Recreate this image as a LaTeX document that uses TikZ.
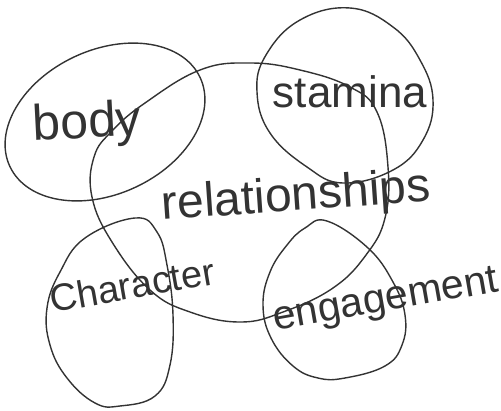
\documentclass[tikz,border=0pt]{standalone}
\usepackage{fontspec}
\setmainfont{Liberation Sans}
\begin{document}
\begin{tikzpicture}[x=1pt,y=-1pt,
  ink/.style={draw=black!80, line width=1.4pt},
  lbl/.style={inner sep=0pt, text=black!80}]
\useasboundingbox (0,0) rectangle (501,410);
% central shape
\draw[ink] plot[smooth cycle, tension=0.7] coordinates {
 (200,70) (250,63) (300,70) (350,87) (377,112) (388,167) (385,218) (366,255)
 (333,288) (283,312) (240,322) (190,312) (150,290) (112,242) (92,197)
 (94,157) (112,131) (145,103)};
% body
\draw[ink, rotate around={25:(105,122)}] (105,122) ellipse [x radius=105, y radius=72];
% stamina
\draw[ink] plot[smooth cycle, tension=0.7] coordinates {
 (350,8) (300,20) (266,55) (257,92) (270,133) (307,167) (343,183) (393,170)
 (423,140) (433,100) (420,60) (393,27)};
% character
\draw[ink] plot[smooth cycle, tension=0.7] coordinates {
 (135,218) (85,238) (60,272) (47,308) (50,345) (67,378) (95,403) (120,406)
 (155,396) (170,365) (173,315) (167,265) (157,232)};
% engagement
\draw[ink] plot[smooth cycle, tension=0.7] coordinates {
 (327,221) (368,248) (393,282) (405,315) (402,345) (385,366) (345,378)
 (318,378) (293,366) (271,338) (263,305) (270,272) (287,245) (305,228)};
% labels
\node[lbl, font=\fontsize{50}{50}\selectfont, rotate=3] (body) at (87,125) {body};
\node[lbl, font=\fontsize{44}{44}\selectfont] (stamina) at (350,92) {stamina};
\node[lbl, font=\fontsize{48}{48}\selectfont, rotate=4] (rel) at (296,198) {relationships};
\node[lbl, font=\fontsize{38}{38}\selectfont, rotate=10] (char) at (132,285) {Character};
\node[lbl, font=\fontsize{41}{41}\selectfont, rotate=10] (eng) at (386,302) {engagement};
\end{tikzpicture}
\end{document}
